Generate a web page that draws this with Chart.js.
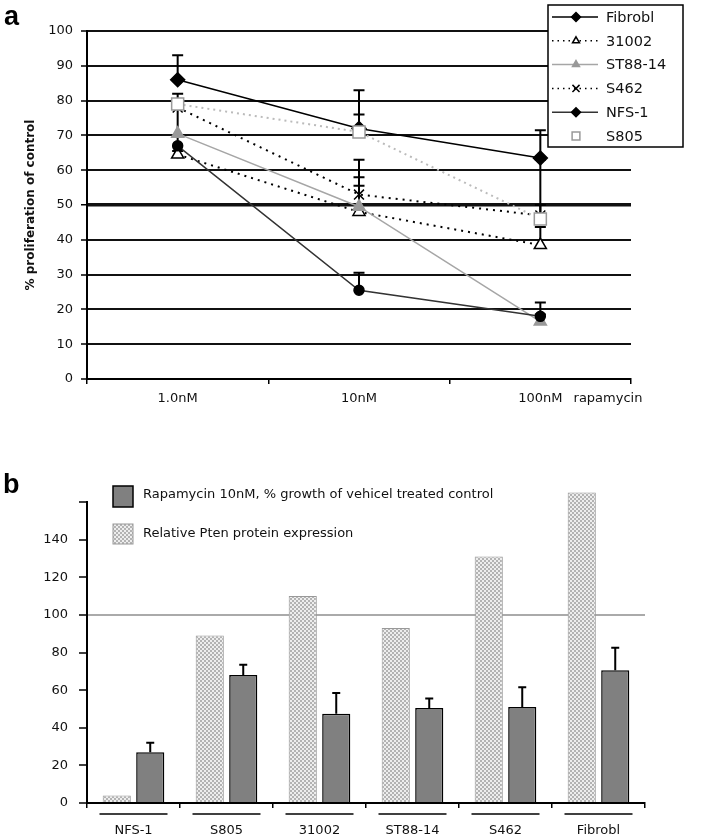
<!DOCTYPE html>
<html>
<head>
<meta charset="utf-8">
<script src="https://cdn.jsdelivr.net/npm/chart.js@4.4.1/dist/chart.umd.min.js"></script>
<style>
  body { margin: 0; background: #fff; }
  #wrap { position: relative; width: 726px; height: 839px; }
  canvas { position: absolute; left: 0; }
</style>
</head>
<body>
<div id="wrap">
  <canvas id="chartA" width="726" height="420" style="top:0"></canvas>
  <canvas id="chartB" width="726" height="379" style="top:460px"></canvas>
</div>
<script>
// ---- panel a data ----
const concLabels = ['1.0nM', '10nM', '100nM'];
const fibroblA = [86, 72, 63.5];
const fibroblErr = [7, 11, 8];
const c31002A = [64.5, 48, 38.5];
const c31002Err = [1, 7.5, 5.2];
const st8814A = [70.5, 49.5, 16.5];
const st8814Err = [8, 8.5, 2];
const s462A = [78, 53, 47];
const s462Err = [2, 10, 16];
const nfs1A = [67, 25.5, 18];
const nfs1Err = [3, 5, 4];
const s805A = [79, 71, 46];
const s805Err = [3, 5, 4];

// ---- panel b data ----
const cellLines = ['NFS-1', 'S805', '31002', 'ST88-14', 'S462', 'Fibrobl'];
const ptenExpr = [4, 89, 110, 93, 131, 165];
const rapaGrowth = [27, 68, 47.5, 50.5, 51, 70.5];
const rapaErr = [5, 5.5, 11, 5, 10.5, 12];

const FONT = '"DejaVu Sans", "Liberation Sans", Arial, sans-serif';
Chart.defaults.font.family = FONT;
Chart.defaults.font.size = 13;
Chart.defaults.color = '#111';

// upper error bars, drawn under the marks
const errorBars = {
    id: 'errorBars',
    beforeDatasetsDraw(chart) {
        const c = chart.ctx;
        const yScale = chart.scales.y;
        chart.data.datasets.forEach((ds, i) => {
            if (!ds.errors) return;
            const meta = chart.getDatasetMeta(i);
            const cap = ds.errCap || 5.5;
            meta.data.forEach((pt, j) => {
                const top = yScale.getPixelForValue(ds.data[j] + ds.errors[j]);
                c.save();
                c.strokeStyle = '#000';
                c.lineWidth = 2;
                c.beginPath();
                c.moveTo(pt.x, pt.y);
                c.lineTo(pt.x, top);
                c.moveTo(pt.x - cap, top);
                c.lineTo(pt.x + cap, top);
                c.stroke();
                c.restore();
            });
        });
    }
};

const panelLabel = {
    id: 'panelLabel',
    afterDraw(chart, args, opts) {
        const c = chart.ctx;
        c.save();
        c.font = 'bold 27px "Liberation Sans", Arial, sans-serif';
        c.fillStyle = '#000';
        c.textBaseline = 'alphabetic';
        c.fillText(opts.text, opts.x, opts.y);
        c.restore();
    }
};

const legendA = {
    id: 'legendA',
    afterDraw(chart) {
        const c = chart.ctx;
        c.save();
        c.fillStyle = '#fff';
        c.fillRect(548, 5, 135, 142);
        c.strokeStyle = '#000';
        c.lineWidth = 1.5;
        c.strokeRect(548, 5, 135, 142);
        chart.data.datasets.forEach((ds, i) => {
            const y = 17 + i * 23.8;
            if (ds.legendLine !== false) {
                c.strokeStyle = ds.borderColor;
                c.lineWidth = 1.5;
                c.setLineDash(ds.borderDash ? [1.5, 4] : []);
                c.beginPath();
                c.moveTo(552, y);
                c.lineTo(598, y);
                c.stroke();
                c.setLineDash([]);
            }
            c.fillStyle = ds.pointBackgroundColor;
            c.strokeStyle = ds.pointBorderColor;
            Chart.helpers.drawPoint(c, {
                pointStyle: ds.legendStyle || ds.pointStyle,
                radius: ds.legendRadius || 4,
                borderWidth: 1,
                rotation: 0
            }, 576, y);
            c.fillStyle = '#111';
            c.font = '14.5px ' + FONT;
            c.textBaseline = 'middle';
            c.fillText(ds.label, 606, y + 1);
        });
        // axis trailer
        const xs = chart.scales.x;
        c.font = '13px ' + FONT;
        c.textBaseline = 'middle';
        c.textAlign = 'center';
        c.fillText('rapamycin', 608, xs.top + 20);
        c.restore();
    }
};

new Chart(document.getElementById('chartA'), {
    type: 'line',
    data: {
        labels: concLabels,
        datasets: [
            { label: 'Fibrobl', data: fibroblA, errors: fibroblErr, borderColor: '#000', borderWidth: 1.5,
              pointStyle: 'rectRot', pointRadius: 7, pointBackgroundColor: '#000', pointBorderColor: '#000',
              legendRadius: 4.5, order: 2 },
            { label: '31002', data: c31002A, errors: c31002Err, borderColor: '#000', borderWidth: 2, borderDash: [2, 5],
              pointStyle: 'triangle', pointRadius: 7, pointBackgroundColor: '#fff', pointBorderColor: '#000',
              pointBorderWidth: 1.5, order: 5 },
            { label: 'ST88-14', data: st8814A, errors: st8814Err, borderColor: '#a6a6a6', borderWidth: 1.5,
              pointStyle: 'triangle', pointRadius: 7, pointBackgroundColor: '#999', pointBorderColor: '#999',
              order: 4 },
            { label: 'S462', data: s462A, errors: s462Err, borderColor: '#000', borderWidth: 2, borderDash: [2, 5],
              pointStyle: 'crossRot', pointRadius: 7, pointBackgroundColor: '#000', pointBorderColor: '#000',
              pointBorderWidth: 1.5, legendRadius: 5, order: 6 },
            { label: 'NFS-1', data: nfs1A, errors: nfs1Err, borderColor: '#333', borderWidth: 1.5,
              pointStyle: 'circle', pointRadius: 5, pointBackgroundColor: '#000', pointBorderColor: '#000',
              legendStyle: 'rectRot', legendRadius: 4.5, order: 3 },
            { label: 'S805', data: s805A, errors: s805Err, borderColor: '#bbb', borderWidth: 2, borderDash: [2, 4],
              pointStyle: 'rect', pointRadius: 8.5, pointBackgroundColor: '#fff', pointBorderColor: '#999',
              pointBorderWidth: 1.5, legendLine: false, legendRadius: 5.5, order: 1 }
        ]
    },
    options: {
        responsive: false,
        animation: false,
        layout: { padding: { left: 0, top: 31, right: 95, bottom: 0 } },
        plugins: {
            legend: { display: false },
            tooltip: { enabled: false },
            panelLabel: { text: 'a', x: 4, y: 25 }
        },
        scales: {
            x: {
                offset: true,
                grid: { offset: true, drawOnChartArea: false, color: '#000', lineWidth: 1.5, tickLength: 5 },
                border: { color: '#000', width: 2 },
                ticks: { padding: 7, color: '#111' },
                afterFit(s) { s.height = 41; }
            },
            y: {
                min: 0,
                max: 100,
                ticks: { stepSize: 10, padding: 8, color: '#111' },
                grid: {
                    color: '#111',
                    lineWidth: (ctx) => ctx.tick && ctx.tick.value === 50 ? 3.5 : 2,
                    tickColor: '#000',
                    tickWidth: 1.5,
                    tickLength: 6
                },
                border: { color: '#000', width: 2 },
                title: {
                    display: true,
                    text: '% proliferation of control',
                    font: { size: 12, weight: 'bold' },
                    color: '#111',
                    padding: { top: 24, bottom: 0 }
                },
                afterFit(s) { s.width = 87; }
            }
        }
    },
    plugins: [errorBars, legendA, panelLabel]
});

// ---- panel b ----
const pc = document.createElement('canvas');
pc.width = 4; pc.height = 4;
const pctx = pc.getContext('2d');
pctx.fillStyle = '#eeeeee';
pctx.fillRect(0, 0, 4, 4);
pctx.fillStyle = '#b3b3b3';
pctx.fillRect(0, 0, 2, 2);
pctx.fillRect(2, 2, 2, 2);
const ptenFill = pctx.createPattern(pc, 'repeat');

const legendB = {
    id: 'legendB',
    afterDraw(chart) {
        const c = chart.ctx;
        const xs = chart.scales.x;
        c.save();
        // group underlines
        c.strokeStyle = '#000';
        c.lineWidth = 1.5;
        cellLines.forEach((name, i) => {
            const x = xs.getPixelForValue(i);
            c.beginPath();
            c.moveTo(x - 34, xs.top + 11);
            c.lineTo(x + 34, xs.top + 11);
            c.stroke();
        });
        // legend
        c.fillStyle = '#808080';
        c.fillRect(113, 26, 20, 21);
        c.strokeStyle = '#000';
        c.strokeRect(113, 26, 20, 21);
        c.fillStyle = ptenFill;
        c.fillRect(113, 64, 20, 20);
        c.strokeStyle = '#999';
        c.lineWidth = 1;
        c.strokeRect(113, 64, 20, 20);
        c.fillStyle = '#111';
        c.font = '13px ' + FONT;
        c.textBaseline = 'middle';
        c.fillText('Rapamycin 10nM, % growth of vehicel treated control', 143, 35);
        c.fillText('Relative Pten protein expression', 143, 74);
        c.restore();
    }
};

new Chart(document.getElementById('chartB'), {
    type: 'bar',
    data: {
        labels: cellLines,
        datasets: [
            { label: 'Relative Pten protein expression', data: ptenExpr, backgroundColor: ptenFill,
              borderColor: '#999', borderWidth: 1, clip: false },
            { label: 'Rapamycin 10nM, % growth of vehicel treated control', data: rapaGrowth, errors: rapaErr,
              errCap: 4, backgroundColor: '#808080', borderColor: '#000', borderWidth: 1.5, clip: false }
        ]
    },
    options: {
        responsive: false,
        animation: false,
        layout: { padding: { left: 0, top: 42, right: 81, bottom: 0 } },
        datasets: { bar: { categoryPercentage: 0.72, barPercentage: 0.84 } },
        plugins: {
            legend: { display: false },
            tooltip: { enabled: false },
            panelLabel: { text: 'b', x: 3, y: 33 }
        },
        scales: {
            x: {
                grid: { offset: true, drawOnChartArea: false, color: '#000', lineWidth: 1.5, tickLength: 5 },
                border: { color: '#000', width: 2 },
                ticks: { padding: 15, color: '#111' },
                afterFit(s) { s.height = 36; }
            },
            y: {
                min: 0,
                max: 160,
                ticks: {
                    stepSize: 20,
                    padding: 11,
                    color: '#111',
                    callback: (v) => v === 160 ? '' : v
                },
                grid: {
                    color: (ctx) => ctx.tick && ctx.tick.value === 100 ? '#aaa' : 'rgba(0,0,0,0)',
                    lineWidth: 2,
                    tickColor: '#000',
                    tickWidth: 1.5,
                    tickLength: 8
                },
                border: { color: '#000', width: 2 },
                afterFit(s) { s.width = 87; }
            }
        }
    },
    plugins: [errorBars, legendB, panelLabel]
});
</script>
</body>
</html>
